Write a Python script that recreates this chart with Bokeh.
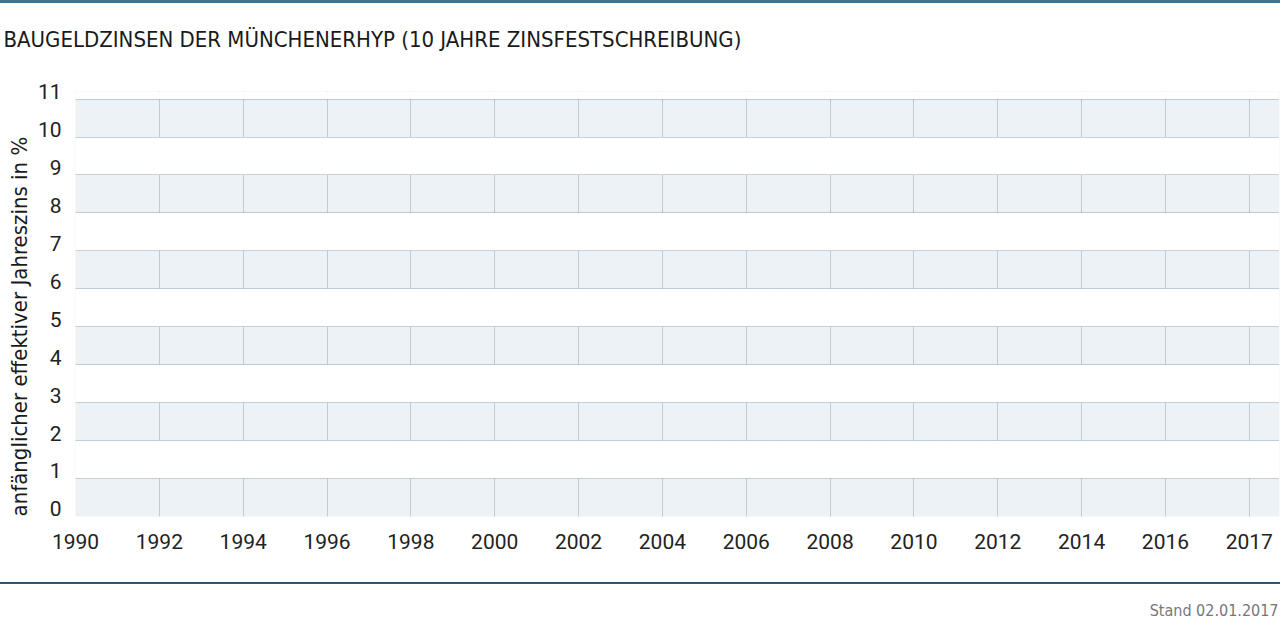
from bokeh.plotting import figure
from bokeh.models import Range1d, FixedTicker, LinearAxis, Title
from bokeh.embed import file_html
from bokeh.resources import INLINE

# ---- data / labels ----
title_text = "BAUGELDZINSEN DER MÜNCHENERHYP (10 JAHRE ZINSFESTSCHREIBUNG)"
y_axis_title = "anfänglicher effektiver Jahreszins in %"
footnote = "Stand 02.01.2017"
x_tick_labels = ["1990", "1992", "1994", "1996", "1998", "2000", "2002", "2004",
                 "2006", "2008", "2010", "2012", "2014", "2016", "2017"]
y_ticks = [0, 1, 2, 3, 4, 5, 6, 7, 8, 9, 10, 11]

NARROW = "'Liberation Sans Narrow', 'DejaVu Sans Condensed', 'Roboto Condensed', sans-serif"
GRID = "#8ea3b2"
BAND = "#edf2f6"
LABEL_LIFT = 0.2      # tick labels sit on top of their grid line
X_PAD = 0.36

x_end = len(x_tick_labels) - 1 + X_PAD
p = figure(width=1280, height=619, output_backend="svg", toolbar_location=None,
           x_range=Range1d(0, x_end),
           y_range=Range1d(y_ticks[0], y_ticks[-1] + LABEL_LIFT),
           min_border_left=75, min_border_right=1, min_border_top=91, min_border_bottom=102,
           y_axis_location=None)
p.styles = {
    "position": "absolute", "left": "0px", "top": "0px",
    "background-color": "#ffffff",
    "background-image": ("linear-gradient(to bottom, #3f7393 0px, #3f7393 3px, "
                         "transparent 3px, transparent 582px, #1f4d66 582px, "
                         "#2f6280 584px, transparent 584px)"),
}
# alternate bands: frame tinted, every other band painted white
p.background_fill_color = BAND
p.border_fill_alpha = 0
p.outline_line_color = None

# x axis
p.xaxis.ticker = FixedTicker(ticks=list(range(len(x_tick_labels))))
p.xaxis.major_label_overrides = {i: t for i, t in enumerate(x_tick_labels)}
p.xaxis.major_label_standoff = 11
xax = p.xaxis[0]

# y axis: labels lifted so that they rest on their grid line
lifted = [v + LABEL_LIFT for v in y_ticks]
yax = LinearAxis(ticker=FixedTicker(ticks=lifted),
                 major_label_overrides={lv: str(v) for lv, v in zip(lifted, y_ticks)},
                 major_label_standoff=8)
p.add_layout(yax, "left")

for ax in (xax, yax):
    ax.axis_line_color = None
    ax.major_tick_line_color = None
    ax.minor_tick_line_color = None
    ax.major_label_text_font = "Roboto"
    ax.major_label_text_font_size = "21px"
    ax.major_label_text_color = "#222222"

# y-axis title, starting at the bottom of the frame
p.add_layout(Title(text=y_axis_title, align="left", offset=0, standoff=5,
                   text_font=NARROW, text_font_size="22px", text_font_style="normal",
                   text_color="#1a1a1a"), "left")

# grids
p.xgrid.ticker = FixedTicker(ticks=list(range(len(x_tick_labels))) + [x_end])
p.ygrid.ticker = FixedTicker(ticks=y_ticks)
for g in (p.xgrid, p.ygrid):
    g.grid_line_color = GRID
    g.grid_line_dash = "1 1"
    g.grid_line_width = 1
p.ygrid.band_fill_color = "white"
p.ygrid.band_fill_alpha = 1.0

# chart title (a spacer keeps it clear of the frame)
p.add_layout(Title(text=" ", text_font_size="1px", standoff=37), "above")
p.add_layout(Title(text=title_text, align="left", offset=-72, standoff=0,
                   text_font=NARROW, text_font_size="22px", text_font_style="normal",
                   text_color="#1a1a1a"), "above")

# footnote at the bottom right (a spacer sets it below the rule)
p.add_layout(Title(text=" ", text_font_size="1px", standoff=44), "below")
p.add_layout(Title(text=footnote, align="right", offset=1, standoff=0,
                   text_font=NARROW, text_font_size="16px", text_font_style="normal",
                   text_color="#777777"), "below")

open("out.html", "w").write(file_html(p, INLINE))
